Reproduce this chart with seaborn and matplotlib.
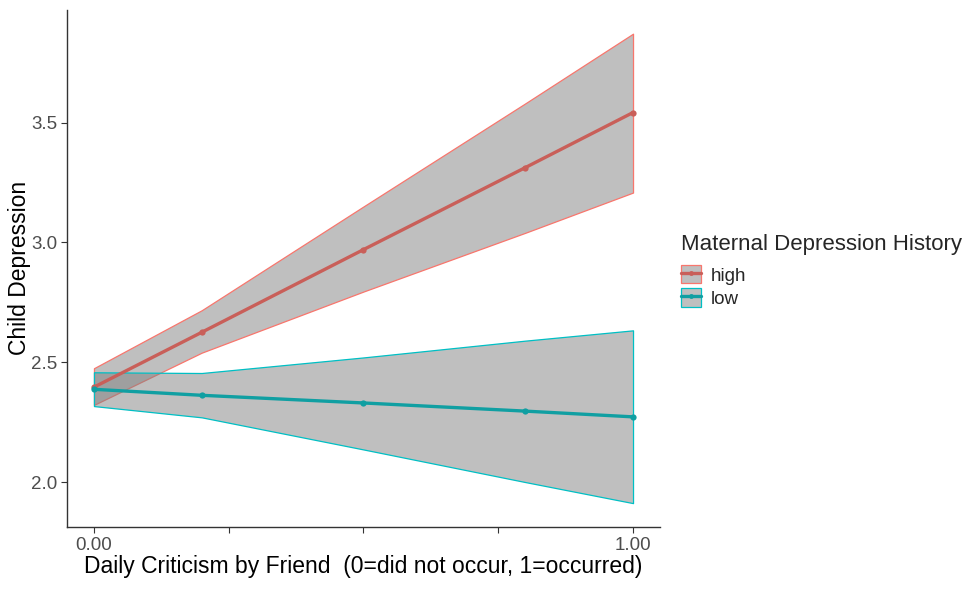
import matplotlib
matplotlib.use("Agg")
import matplotlib.pyplot as plt
import seaborn as sns
import pandas as pd
import numpy as np
from matplotlib.patches import Patch
from matplotlib.lines import Line2D
from matplotlib.legend_handler import HandlerTuple

# ---- data ----
criticism = [0.0, 0.2, 0.5, 0.8, 1.0]
high_fit = [2.396, 2.625, 2.970, 3.312, 3.542]
high_lower = [2.322, 2.540, 2.795, 3.040, 3.208]
high_upper = [2.475, 2.717, 3.150, 3.580, 3.871]
low_fit = [2.387, 2.362, 2.330, 2.296, 2.272]
low_lower = [2.317, 2.270, 2.136, 2.000, 1.912]
low_upper = [2.458, 2.455, 2.520, 2.590, 2.633]
groups = ["high", "low"]
x_ticks = [0.0, 0.25, 0.5, 0.75, 1.0]
x_ticklabels = ["0.00", "", "", "", "1.00"]
y_ticks = [2.0, 2.5, 3.0, 3.5]

edge_colors = {"high": "#F8766D", "low": "#00BFC4"}
line_colors = {"high": "#C95F59", "low": "#109FA2"}

df = pd.DataFrame({
    "x": criticism * 2,
    "y": high_fit + low_fit,
    "lo": high_lower + low_lower,
    "hi": high_upper + low_upper,
    "group": ["high"] * len(criticism) + ["low"] * len(criticism),
})

sns.set_theme(style="white")
plt.rcParams["font.family"] = ["Liberation Sans", "DejaVu Sans"]

fig = plt.figure(figsize=(9.74, 5.89), dpi=100)
ax = fig.add_axes([0.0688, 0.1053, 0.6088, 0.878])

for g in groups:
    d = df[df["group"] == g]
    ax.fill_between(d["x"], d["lo"], d["hi"], facecolor=(0.5, 0.5, 0.5, 0.5),
                    edgecolor=edge_colors[g], linewidth=0.9, zorder=2)

sns.lineplot(data=df, x="x", y="y", hue="group", palette=line_colors,
             marker="o", markersize=4.5, markeredgewidth=0, linewidth=2.4,
             ax=ax, legend=False, zorder=3)

ax.set_xlim(-0.05, 1.05)
ax.set_ylim(1.8125, 3.9705)
ax.set_xticks(x_ticks)
ax.set_xticklabels(x_ticklabels)
ax.set_yticks(y_ticks)
ax.set_yticklabels([f"{v:.1f}" for v in y_ticks])
ax.tick_params(axis="both", which="major", length=4, width=0.8, color="#333333",
               labelsize=13.5, labelcolor="#4D4D4D", pad=3)
ax.tick_params(bottom=True, left=True)
for s in ["top", "right"]:
    ax.spines[s].set_visible(False)
for s in ["left", "bottom"]:
    ax.spines[s].set_color("#333333")
    ax.spines[s].set_linewidth(1.0)

ax.set_xlabel("Daily Criticism by Friend  (0=did not occur, 1=occurred)",
              fontsize=16.5, color="black", labelpad=1)
ax.set_ylabel("Child Depression", fontsize=16.5, color="black", labelpad=0)

handles = []
for g in groups:
    p = Patch(facecolor=(0.5, 0.5, 0.5, 0.5), edgecolor=edge_colors[g], linewidth=0.9)
    l = Line2D([0], [0], color=line_colors[g], marker="o", markersize=3.5,
               markeredgewidth=0, linewidth=2.4)
    handles.append((p, l))

leg = fig.legend(handles, groups, handler_map={tuple: HandlerTuple(ndivide=1, pad=0)},
                 loc="upper left", bbox_to_anchor=(0.699, 0.602), frameon=False,
                 title="Maternal Depression History", title_fontsize=16,
                 fontsize=13.5, handlelength=1.07, handleheight=1.12,
                 labelspacing=0.2, handletextpad=0.5, borderaxespad=0,
                 borderpad=0)
leg._legend_box.align = "left"
leg._legend_box.sep = 7

fig.savefig("out.png", dpi=100)
